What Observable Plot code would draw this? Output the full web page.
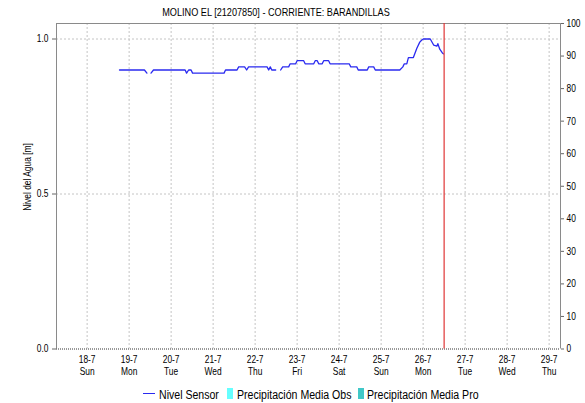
<!DOCTYPE html>
<html><head><meta charset="utf-8">
<script src="https://cdn.jsdelivr.net/npm/d3@7"></script>
<script src="https://cdn.jsdelivr.net/npm/@observablehq/plot@0.6"></script>
<style>
body{margin:0;background:#fff;}
#wrap{position:relative;width:585px;height:403px;overflow:hidden;font-family:"Liberation Sans",Arial,sans-serif;color:#000;}
#title{position:absolute;top:6px;left:0;width:552px;text-align:center;font-size:11px;line-height:12px;white-space:nowrap;transform:scaleX(0.83);transform-origin:276px 50%;}
#ylabel{position:absolute;left:28px;top:177px;transform:translate(-50%,-50%) rotate(-90deg) scaleX(0.84);font-size:10px;white-space:nowrap;line-height:10px;}
.lg{position:absolute;font-size:12px;line-height:12px;top:389px;white-space:nowrap;transform:scaleX(0.88);transform-origin:0 50%;}
.sw{position:absolute;top:388px;height:11px;width:6px;}
.ln{position:absolute;top:393px;height:1.3px;width:12px;}
</style></head><body>
<div id="wrap"><div id="chart"></div></div>
<script>
// ---- data ----
const title = "MOLINO EL [21207850] - CORRIENTE: BARANDILLAS";
const yLabel = "Nivel del Agua [m]";
const seriesNames = ["Nivel Sensor", "Precipitación Media Obs", "Precipitación Media Pro"];
const seriesColors = ["#2a2af0", "#66ffff", "#40c8c8"];
const times = [
 "2021-07-18 18:30","2021-07-19 08:45","2021-07-19 10:10",null,"2021-07-19 12:30","2021-07-19 13:55",
 "2021-07-20 08:00","2021-07-20 08:50","2021-07-20 10:00","2021-07-20 11:25","2021-07-20 12:15",
 "2021-07-21 06:15","2021-07-21 07:05","2021-07-21 13:40","2021-07-21 14:35","2021-07-21 18:00",
 "2021-07-21 19:10","2021-07-21 20:15","2021-07-22 06:50","2021-07-22 07:45","2021-07-22 08:40",
 "2021-07-22 09:30","2021-07-22 11:45",null,"2021-07-22 14:35","2021-07-22 15:45","2021-07-22 19:10",
 "2021-07-22 20:00","2021-07-22 23:10","2021-07-23 00:00","2021-07-23 03:45","2021-07-23 04:35",
 "2021-07-23 09:30","2021-07-23 10:20","2021-07-23 11:30","2021-07-23 12:20","2021-07-23 14:20",
 "2021-07-23 15:10","2021-07-23 18:00","2021-07-23 18:50","2021-07-24 05:45","2021-07-24 06:40",
 "2021-07-24 10:05","2021-07-24 10:55","2021-07-24 16:05","2021-07-24 16:55","2021-07-24 19:45",
 "2021-07-24 20:40","2021-07-25 10:40","2021-07-25 12:25","2021-07-25 13:15","2021-07-25 14:40",
 "2021-07-25 15:35","2021-07-25 18:25","2021-07-25 20:25","2021-07-25 22:05","2021-07-25 23:15",
 "2021-07-26 00:05","2021-07-26 04:05","2021-07-26 06:05","2021-07-26 07:50","2021-07-26 08:25",
 "2021-07-26 09:30","2021-07-26 11:00","2021-07-26 11:35"];
const levels = [
 0.90,0.90,0.89,null,0.89,0.90,
 0.90,0.89,0.90,0.90,0.89,
 0.89,0.90,0.90,0.91,0.91,
 0.90,0.91,0.91,0.90,0.91,
 0.90,0.90,null,0.90,0.91,0.91,
 0.92,0.92,0.93,0.93,0.92,
 0.92,0.93,0.93,0.92,0.92,
 0.93,0.93,0.92,0.92,0.91,
 0.91,0.90,0.90,0.91,0.91,
 0.90,0.90,0.91,0.92,0.92,
 0.94,0.94,0.97,0.99,0.997,
 1.00,1.00,0.98,0.977,0.985,
 0.967,0.955,0.952];
const xStart = "2021-07-17 06:30", xEnd = "2021-07-29 06:30", nowTime = "2021-07-26 12:00";
const dayTicks = ["2021-07-18","2021-07-19","2021-07-20","2021-07-21","2021-07-22","2021-07-23",
 "2021-07-24","2021-07-25","2021-07-26","2021-07-27","2021-07-28","2021-07-29"];
const leftTicks = [0, 0.5, 1.0];
const rightTicks = [0,10,20,30,40,50,60,70,80,90,100];
const yMax = 1.05;

// ---- build ----
const parse = d3.utcParse("%Y-%m-%d %H:%M");
const parseDay = d3.utcParse("%Y-%m-%d");
const data = times.map((t, i) => ({t: t ? parse(t) : null, v: levels[i]}));
let last = null;
data.forEach(d => { if (d.t) last = d.t; else d.t = last; });
const days = dayTicks.map(parseDay);
const x0 = parse(xStart), x1 = parse(xEnd), now = parse(nowTime);
const fmtD = d3.utcFormat("%-d-%-m"), fmtW = d3.utcFormat("%a");
const font = '"Liberation Sans",Arial,sans-serif';

const chart = Plot.plot({
  width: 585, height: 403,
  marginLeft: 56, marginRight: 25, marginTop: 23, marginBottom: 54.5,
  style: {fontFamily: font, fontSize: "10.5px", color: "#000", background: "#fff"},
  x: {type: "utc", domain: [x0, x1]},
  y: {domain: [0, yMax]},
  marks: [
    Plot.ruleX(days, {stroke: "#c4c4c4", strokeDasharray: "2,2"}),
    Plot.ruleY(leftTicks.filter(d => d > 0), {stroke: "#c4c4c4", strokeDasharray: "2,2"}),
    Plot.ruleY([yMax], {stroke: "#8a8a8a"}),
    Plot.ruleX([x0, x1], {stroke: "#8a8a8a"}),
    Plot.ruleY([0], {stroke: "#333", strokeDasharray: "1,1"}),
    Plot.line(data, {x: "t", y: "v", stroke: seriesColors[0], strokeWidth: 1.3}),
    Plot.ruleX([now], {stroke: "#e03535", strokeWidth: 1.2}),
    Plot.axisX({ticks: days, tickFormat: d => fmtD(d) + "\n" + fmtW(d), tickSize: 0, tickPadding: 6, lineHeight: 1.1, label: null}),
    Plot.axisY({anchor: "left", ticks: leftTicks, tickFormat: d3.format(".1f"), tickSize: 4, tickPadding: 4, stroke: "#666", label: null}),
    Plot.axisY({anchor: "right", ticks: rightTicks.map(p => p / 100 * yMax), tickFormat: y => Math.round(y / yMax * 100), tickSize: 3, tickPadding: 3, stroke: "#666", label: null})
  ]
});
// condense axis tick labels horizontally (narrow look of the original)
chart.querySelectorAll('g[aria-label$="tick label"] text').forEach(el => {
  const tr = el.getAttribute("transform");
  if (tr) el.setAttribute("transform", tr + " scale(0.8,1)");
  else {
    const x = +el.getAttribute("x") || 0, y = +el.getAttribute("y") || 0;
    el.setAttribute("x", 0); el.setAttribute("y", 0);
    el.setAttribute("transform", `translate(${x},${y}) scale(0.8,1)`);
  }
});
const wrap = document.getElementById("wrap");
document.getElementById("chart").appendChild(chart);

const t = document.createElement("div"); t.id = "title"; t.textContent = title; wrap.appendChild(t);
const yl = document.createElement("div"); yl.id = "ylabel"; yl.textContent = yLabel; wrap.appendChild(yl);
// legend
const swX = [143, 227, 358], txX = [159, 236.5, 367];
seriesNames.forEach((name, i) => {
  const s = document.createElement("div");
  s.className = i === 0 ? "ln" : "sw";
  s.style.left = swX[i] + "px"; s.style.background = seriesColors[i];
  wrap.appendChild(s);
  const l = document.createElement("div");
  l.className = "lg"; l.style.left = txX[i] + "px"; l.textContent = name;
  wrap.appendChild(l);
});
</script>
</body></html>
